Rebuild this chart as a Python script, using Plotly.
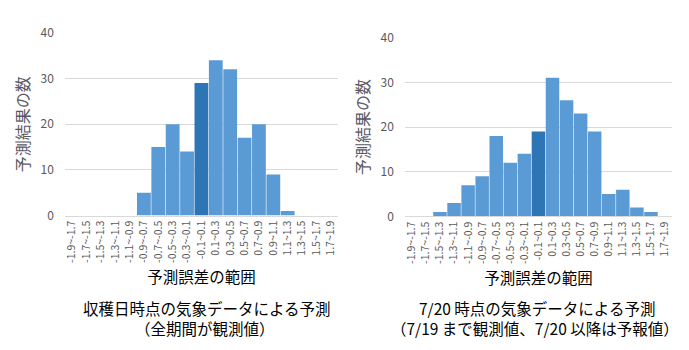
import plotly.graph_objects as go

categories = ["-1.9~-1.7", "-1.7~-1.5", "-1.5~-1.3", "-1.3~-1.1", "-1.1~-0.9",
              "-0.9~-0.7", "-0.7~-0.5", "-0.5~-0.3", "-0.3~-0.1", "-0.1~0.1",
              "0.1~0.3", "0.3~0.5", "0.5~0.7", "0.7~0.9", "0.9~1.1",
              "1.1~1.3", "1.3~1.5", "1.5~1.7", "1.7~1.9"]
left_values = [0, 0, 0, 0, 0, 5, 15, 20, 14, 29, 34, 32, 17, 20, 9, 1, 0, 0, 0]
right_values = [0, 0, 1, 3, 7, 9, 18, 12, 14, 19, 31, 26, 23, 19, 5, 6, 2, 1, 0]
highlight = "-0.1~0.1"
y_ticks = [0, 10, 20, 30, 40]
captions = [
    ("収穫日時点の気象データによる予測", 206, 313),
    ("（全期間が観測値）", 204, 334),
    ("7/20 時点の気象データによる予測", 537, 313),
    ("（7/19 まで観測値、7/20 以降は予報値）", 535, 334),
]

LIGHT = "#5B9BD5"
DARK = "#2E75B6"
FONT = "Noto Sans CJK JP"
W, H = 689, 350
colors = [DARK if c == highlight else LIGHT for c in categories]

fig = go.Figure()
fig.add_trace(go.Bar(x=categories, y=left_values, marker=dict(color=colors, line=dict(width=0)),
                     xaxis="x", yaxis="y", showlegend=False))
fig.add_trace(go.Bar(x=categories, y=right_values, marker=dict(color=colors, line=dict(width=0)),
                     xaxis="x2", yaxis="y2", showlegend=False))

xcommon = dict(type="category", tickangle=-90, tickfont=dict(size=10.5, color="#595959", family=FONT),
               showline=True, linecolor="#D9D9D9", linewidth=1, ticks="", showgrid=False,
               title=dict(text="予測誤差の範囲", font=dict(size=15.5, color="#000000", family=FONT), standoff=10))
ycommon = dict(range=[0, 40], tickvals=y_ticks, tickfont=dict(size=12, color="#595959", family=FONT),
               ticklabelstandoff=10,
               showgrid=True, gridcolor="#D9D9D9", gridwidth=1, zeroline=False, ticks="",
               title=dict(text="予測結果の数", font=dict(size=16, color="#595966", family=FONT), standoff=6))

fig.update_layout(
    width=W, height=H,
    margin=dict(l=0, r=0, t=0, b=0),
    paper_bgcolor="white", plot_bgcolor="white",
    bargap=0.04,
    font=dict(family=FONT),
    xaxis=dict(domain=[63 / W, 337 / W], anchor="y", **xcommon),
    yaxis=dict(domain=[1 - 216 / H, 1 - 24 / H], anchor="x", **ycommon),
    xaxis2=dict(domain=[404 / W, 672 / W], anchor="y2", **xcommon),
    yaxis2=dict(domain=[1 - 217 / H, 1 - 29 / H], anchor="x2", **ycommon),
    annotations=[
        dict(text=t, x=cx / W, y=1 - cy / H, xref="paper", yref="paper", showarrow=False,
             xanchor="center", yanchor="middle", font=dict(size=15.5, color="#000000", family=FONT))
        for t, cx, cy in captions
    ],
)

fig.write_html("out.html")
